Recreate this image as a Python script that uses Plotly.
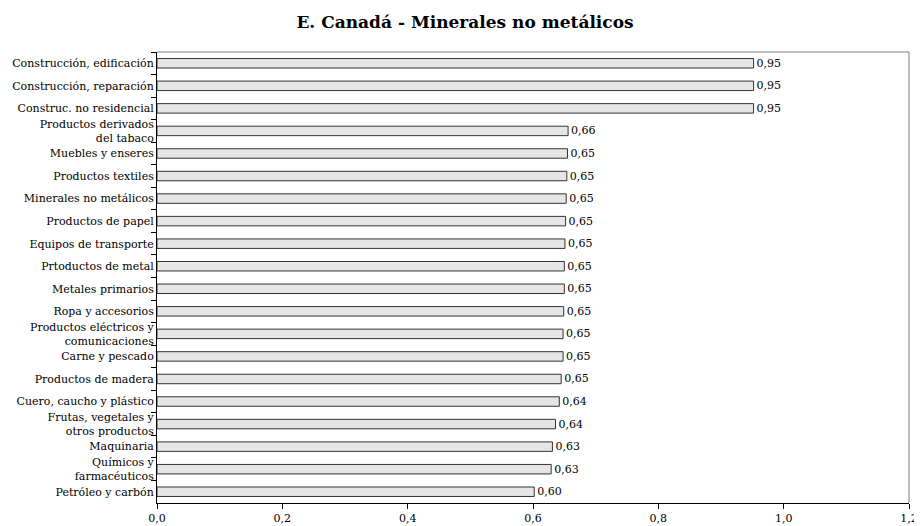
import plotly.graph_objects as go

categories = [
    "Construcción, edificación",
    "Construcción, reparación",
    "Construc. no residencial",
    "Productos derivados<br>del tabaco",
    "Muebles y enseres",
    "Productos textiles",
    "Minerales no metálicos",
    "Productos de papel",
    "Equipos de transporte",
    "Prtoductos de metal",
    "Metales primarios",
    "Ropa y accesorios",
    "Productos eléctricos y<br>comunicaciones",
    "Carne y pescado",
    "Productos de madera",
    "Cuero, caucho y plástico",
    "Frutas, vegetales y<br>otros productos",
    "Maquinaria",
    "Químicos y<br>farmacéuticos",
    "Petróleo y carbón",
]

values = [0.952, 0.952, 0.952, 0.656, 0.655, 0.654, 0.653, 0.652, 0.651, 0.650,
          0.650, 0.649, 0.648, 0.648, 0.645, 0.642, 0.636, 0.631, 0.629, 0.602]

value_labels = ["0,95", "0,95", "0,95", "0,66", "0,65", "0,65", "0,65", "0,65", "0,65", "0,65",
                "0,65", "0,65", "0,65", "0,65", "0,65", "0,64", "0,64", "0,63", "0,63", "0,60"]

title_text = "E. Canadá - Minerales no metálicos"
font_family = "DejaVu Serif, Liberation Serif, serif"

# page body has an 8px default margin; figure is sized so it fills the 922x526 window
fig_w, fig_h = 914, 518

fig = go.Figure()
fig.add_trace(go.Bar(
    x=values,
    y=categories,
    orientation="h",
    marker=dict(color="#e6e6e6", line=dict(color="#333333", width=1)),
    text=value_labels,
    textposition="outside",
    constraintext="none",
    textfont=dict(family=font_family, size=11, color="#000000"),
    cliponaxis=False,
    hoverinfo="x+y",
))

fig.update_layout(
    width=fig_w, height=fig_h,
    margin=dict(l=149, r=13, t=44, b=23, autoexpand=False),
    paper_bgcolor="white", plot_bgcolor="white",
    separators=",.",
    bargap=0.58,
    showlegend=False,
    font=dict(family=font_family, size=11, color="#000000"),
    title=dict(text="<b>" + title_text + "</b>", x=0.5, xanchor="center",
               y=1 - 14 / fig_h, yanchor="middle",
               font=dict(family=font_family, size=17, color="#000000")),
    xaxis=dict(range=[0, 1.2], dtick=0.2, tick0=0, tickformat=".1f",
               automargin=False,
               showgrid=False, zeroline=False,
               showline=True, linecolor="#000000", linewidth=1,
               ticks="outside", ticklen=5, tickcolor="#000000",
               tickfont=dict(family=font_family, size=11)),
    yaxis=dict(autorange="reversed", type="category",
               automargin=False,
               showgrid=False, zeroline=False,
               showline=True, linecolor="#000000", linewidth=1,
               ticks="outside", ticklen=5, tickcolor="#000000",
               tickson="boundaries", ticklabelstandoff=0,
               tickfont=dict(family=font_family, size=11)),
    shapes=[
        dict(type="line", xref="paper", yref="paper", x0=0, x1=1, y0=1, y1=1,
             line=dict(color="#808080", width=1)),
        dict(type="line", xref="paper", yref="paper", x0=1, x1=1, y0=0, y1=1,
             line=dict(color="#808080", width=1)),
    ],
)

fig.write_html("out.html")
